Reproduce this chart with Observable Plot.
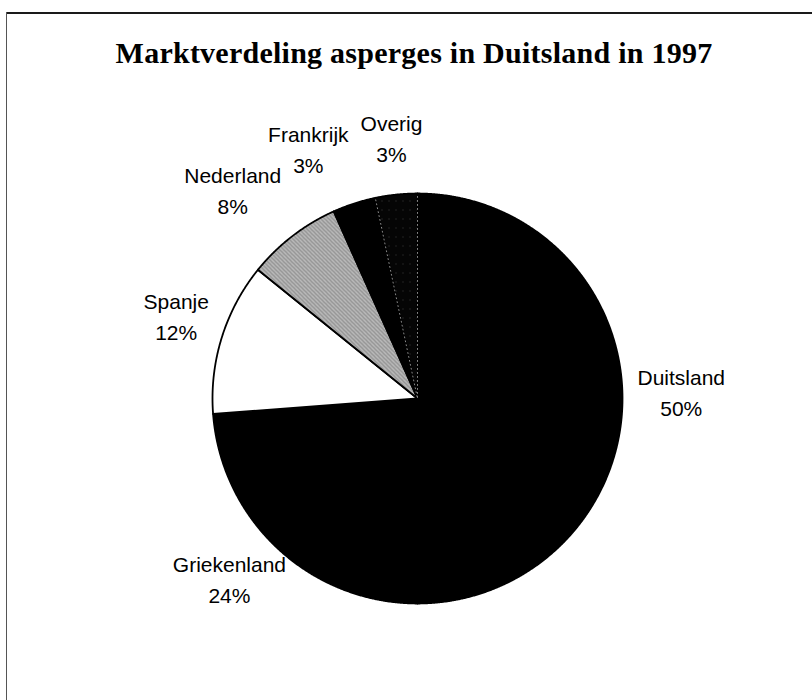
<!DOCTYPE html>
<html><head><meta charset="utf-8">
<script src="https://cdn.jsdelivr.net/npm/d3@7"></script>
<script src="https://cdn.jsdelivr.net/npm/@observablehq/plot@0.6"></script>
<style>
html,body{margin:0;padding:0;background:#fff;overflow:hidden;width:812px;height:700px;}
#page{position:relative;width:812px;height:700px;overflow:hidden;background:#fff;}
#frameTop{position:absolute;left:6px;top:12px;width:806px;height:0;border-top:2px solid #1a1a1a;}
#frameLeft{position:absolute;left:6px;top:12px;width:0;height:688px;border-left:1.5px solid #555;}
#cover{position:absolute;left:790px;top:14px;width:22px;height:686px;background:#fff;z-index:5;}
#title{position:absolute;left:16px;width:796px;top:36px;height:34px;line-height:34px;text-align:center;font-family:"Liberation Serif","Times New Roman",serif;font-weight:bold;font-size:30px;letter-spacing:0.25px;color:#000;white-space:nowrap;}
#chart{position:absolute;left:0;top:70px;width:800px;height:630px;overflow:hidden;}
#chart svg{display:block;}
</style></head>
<body>
<svg width="0" height="0" style="position:absolute;left:0;top:0">
  <defs>
    <pattern id="ned" width="4" height="4" patternUnits="userSpaceOnUse">
      <rect width="4" height="4" fill="#b4b4b4"/>
      <rect x="0" y="0" width="1" height="1" fill="#444"/>
      <rect x="2" y="2" width="1" height="1" fill="#444"/>
      <rect x="2" y="0" width="1" height="1" fill="#777"/>
      <rect x="0" y="2" width="1" height="1" fill="#888"/>
      <rect x="1" y="3" width="1" height="1" fill="#f4f4f4"/>
      <rect x="3" y="1" width="1" height="1" fill="#f4f4f4"/>
    </pattern>
    <pattern id="ovr" width="7" height="9" patternUnits="userSpaceOnUse">
      <rect width="7" height="9" fill="#050505"/>
      <rect x="3" y="4" width="1" height="1" fill="#3c3c3c"/>
    </pattern>
  </defs>
</svg>
<div id="page">
  <div id="frameTop"></div>
  <div id="frameLeft"></div>
  <div id="title">Marktverdeling asperges in Duitsland in 1997</div>
  <div id="chart"></div>
  <div id="cover"></div>
</div>
<script>
// ---- data ----
const countries = ["Duitsland", "Griekenland", "Spanje", "Nederland", "Frankrijk", "Overig"];
const shares = [50, 23.8, 12, 7.5, 3.4, 3.3];

// ---- styling ----
const sliceFill = {
  "Duitsland": "#000000",
  "Griekenland": "#000000",
  "Spanje": "#ffffff",
  "Nederland": "url(#ned)",
  "Frankrijk": "#000000",
  "Overig": "url(#ovr)"
};

// ---- layout ----
const W = 800, H = 630, CX = 417, CY = 328, R = 205;
const FS = 21, LINE = 31, GAP = 15, BOXH = 70, PAD = 12, LIFT = 21;
const labelFont = `${FS}px "Liberation Sans", Arial, sans-serif`;

const data = countries.map((name, i) => ({name, share: shares[i], pct: Math.round(shares[i]) + "%"}));
const arcs = d3.pie().sort(null).value(d => d.share)(data);

// slice outlines in radius units
const slicePts = [];
arcs.forEach(a => {
  const n = Math.max(2, Math.ceil((a.endAngle - a.startAngle) / 0.004));
  slicePts.push({name: a.data.name, x: 0, y: 0});
  for (let k = 0; k <= n; k++) {
    const t = a.startAngle + (a.endAngle - a.startAngle) * k / n;
    slicePts.push({name: a.data.name, x: Math.sin(t), y: Math.cos(t)});
  }
});
const ovArc = arcs.find(a => a.data.name === "Overig");
const ovEdges = [
  {x: Math.sin(ovArc.startAngle) * 0.99, y: Math.cos(ovArc.startAngle) * 0.99},
  {x: 0, y: 0},
  {x: Math.sin(ovArc.endAngle) * 0.99, y: Math.cos(ovArc.endAngle) * 0.99}
];

// label placement (pixel space), outside end with simple overlap avoidance
const ctx = document.createElement("canvas").getContext("2d");
ctx.font = labelFont;
const tw = s => ctx.measureText(s).width;
const labels = arcs.map(a => {
  const m = (a.startAngle + a.endAngle) / 2;
  const ux = Math.sin(m), uy = -Math.cos(m);
  const w1 = tw(a.data.name), w2 = tw(a.data.pct), w = Math.max(w1, w2);
  const px = CX + ux * (R + GAP), py = CY + uy * (R + GAP);
  const cx = px + ux * w / 2, cy = py + uy * BOXH / 2;
  return {name: a.data.name, pct: a.data.pct, mid: m, w1, w2, cx, cy};
});
function lines(l) {
  const b1 = l.cy - 12, b2 = b1 + LINE;
  return [
    {l: l.cx - l.w1 / 2, r: l.cx + l.w1 / 2, t: b1 - 15, b: b1},
    {l: l.cx - l.w2 / 2, r: l.cx + l.w2 / 2, t: b2 - 15, b: b2}
  ];
}
const leftSide = labels.filter(l => l.mid > Math.PI).sort((a, b) => b.mid - a.mid);
const placed = [];
for (const lab of leftSide) {
  let moved = true, guard = 0;
  while (moved && guard++ < 20) {
    moved = false;
    for (const p of placed) {
      for (const A of lines(lab)) for (const B of lines(p)) {
        if (A.t < B.b && A.b > B.t && A.l < B.r + PAD && A.r > B.l - PAD) {
          const shift = A.r - (B.l - PAD);
          if (shift > 0) { lab.cx -= shift; moved = true; }
        }
      }
    }
  }
  placed.push(lab);
}
const labelPts = labels.map(l => ({
  text: l.name + "\n" + l.pct,
  x: (l.cx - CX) / R,
  y: (CY - (l.cy - LIFT - 0.71 * FS)) / R
}));

const chart = Plot.plot({
  width: W, height: H,
  marginTop: 0, marginRight: 0, marginBottom: 0, marginLeft: 0,
  x: {domain: [-CX / R, (W - CX) / R], range: [0, W], axis: null},
  y: {domain: [-(H - CY) / R, CY / R], range: [H, 0], axis: null},
  color: {type: "identity"},
  style: {background: "transparent", overflow: "visible"},
  marks: [
    Plot.line(slicePts, {x: "x", y: "y", z: "name", fill: d => sliceFill[d.name], stroke: "#000", strokeWidth: 1.8, strokeLinejoin: "round", curve: "linear-closed"}),
    Plot.line(ovEdges, {x: "x", y: "y", stroke: "#8a8a8a", strokeWidth: 1, strokeDasharray: "1 3"}),
    Plot.text(labelPts, {x: "x", y: "y", text: "text", fontSize: FS, lineHeight: LINE / FS, lineAnchor: "top", textAnchor: "middle", fontFamily: "Liberation Sans, Arial, sans-serif", fill: "#000"})
  ]
});
document.getElementById("chart").appendChild(chart);
</script>
</body></html>
